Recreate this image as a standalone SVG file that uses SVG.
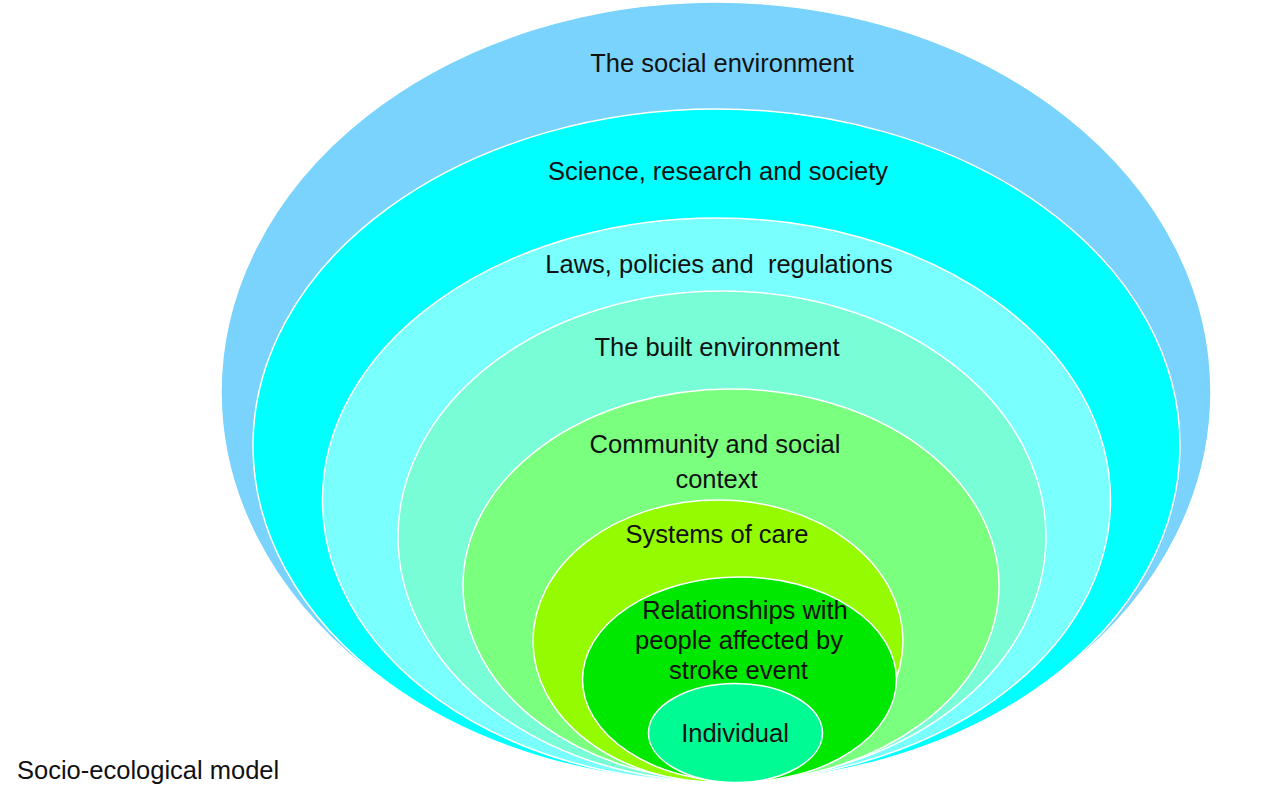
<svg xmlns="http://www.w3.org/2000/svg" width="1280" height="805" viewBox="0 0 1280 805">
<style>
.ring{stroke:#ffffff;stroke-width:1.5}
.lbl{font-family:"Liberation Sans",Arial,sans-serif;font-size:25.5px;fill:#111111;text-anchor:middle}
.cap{font-family:"Liberation Sans",Arial,sans-serif;font-size:25.5px;fill:#111111}
</style>
<rect x="0" y="0" width="1280" height="805" fill="#ffffff"/>
<g id="social-environment">
<ellipse class="ring" cx="716" cy="392" rx="495" ry="390" fill="#79d3fd" stroke="none"/>
<text class="lbl" x="722" y="72">The social environment</text>
</g>
<g id="science-research-society">
<ellipse class="ring" cx="716.5" cy="445.5" rx="463.5" ry="336.5" fill="#00ffff"/>
<text class="lbl" x="718" y="180">Science, research and society</text>
</g>
<g id="laws-policies-regulations">
<ellipse class="ring" cx="716.5" cy="500" rx="394" ry="282" fill="#7affff"/>
<text class="lbl" x="719" y="273" style="white-space:pre" xml:space="preserve">Laws, policies and  regulations</text>
</g>
<g id="built-environment">
<ellipse class="ring" cx="722" cy="536.5" rx="324" ry="245.5" fill="#79fdd6"/>
<text class="lbl" x="717" y="356">The built environment</text>
</g>
<g id="community-social-context">
<ellipse class="ring" cx="731" cy="585.5" rx="268" ry="196.5" fill="#7aff7e"/>
<text class="lbl" x="715" y="453">Community and social</text>
<text class="lbl" x="716.5" y="488">context</text>
</g>
<g id="systems-of-care">
<ellipse class="ring" cx="718" cy="641" rx="185" ry="141" fill="#94fb00"/>
<text class="lbl" x="717" y="543">Systems of care</text>
</g>
<g id="relationships">
<ellipse class="ring" cx="739.5" cy="679.5" rx="157" ry="102.5" fill="#00e800"/>
<text class="lbl" x="745" y="619">Relationships with</text>
<text class="lbl" x="739" y="649">people affected by</text>
<text class="lbl" x="738.5" y="679">stroke event</text>
</g>
<g id="individual">
<ellipse class="ring" cx="735.5" cy="733" rx="87" ry="49.5" fill="#00fa94"/>
<text class="lbl" x="735" y="742">Individual</text>
</g>
<g id="connectors"></g>
<g id="caption">
<text class="cap" x="17" y="779">Socio-ecological model</text>
</g>
</svg>
